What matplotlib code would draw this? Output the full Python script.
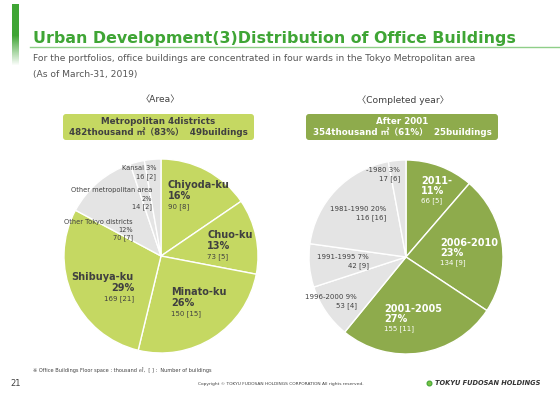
import numpy as np
import matplotlib
matplotlib.use('Agg')
from matplotlib import pyplot as plt
from matplotlib.patches import FancyBboxPatch

plt.rcParams['font.family'] = ['DejaVu Sans', 'Noto Sans CJK JP']

# data
area_names = ['Chiyoda-ku', 'Chuo-ku', 'Minato-ku', 'Shibuya-ku',
              'Other Tokyo districts', 'Other metropolitan area', 'Kansai']
area_space = [90, 73, 150, 169, 70, 14, 16]
area_pct = [16, 13, 26, 29, 12, 2, 3]
area_bldg = [8, 5, 15, 21, 7, 2, 2]
area_main = [True, True, True, True, False, False, False]

year_names = ['2011-', '2006-2010', '2001-2005', '1996-2000',
              '1991-1995', '1981-1990', '-1980']
year_space = [66, 134, 155, 53, 42, 116, 17]
year_pct = [11, 23, 27, 9, 7, 20, 3]
year_bldg = [5, 9, 11, 4, 9, 16, 6]
year_main = [True, True, True, False, False, False, False]

W, H = 560, 396
LIGHT = '#c5d862'
DARK = '#8eab4c'
GREY = '#e4e4e4'
TXT = '#404040'

fig = plt.figure(figsize=(W / 100, H / 100), dpi=100)


def pie_axes(cx, cy, r):
    return fig.add_axes([(cx - r) / W, 1 - (cy + r) / H, 2 * r / W, 2 * r / H])


def draw_pie(ax, vals, main, main_col):
    colors = [main_col if m else GREY for m in main]
    ax.pie(vals, colors=colors, startangle=90, counterclock=False,
           wedgeprops=dict(edgecolor='white', linewidth=1))
    ax.set_xlim(-1, 1)
    ax.set_ylim(-1, 1)
    ax.axis('off')


axl = pie_axes(161, 256, 97)
draw_pie(axl, area_space, area_main, LIGHT)
axr = pie_axes(406, 257, 97)
draw_pie(axr, year_space, year_main, DARK)

# overlay axes in page pixels, on top of the pies
bg = fig.add_axes([0, 0, 1, 1])
bg.patch.set_alpha(0)
bg.axis('off')

# left green gradient bar
cols = np.zeros((60, 1, 4))
cols[..., 0] = 0x3f / 255
cols[..., 1] = 0xa5 / 255
cols[..., 2] = 0x35 / 255
cols[:, 0, 3] = 1
cols[30:, 0, 3] = np.linspace(1, 0, 30)
bg.imshow(cols, extent=(12, 19, 66, 4), aspect='auto', zorder=1)
bg.set_xlim(0, W)
bg.set_ylim(H, 0)

bg.text(33, 43, 'Urban Development(3)Distribution of Office Buildings',
        fontsize=11.4, fontweight='bold', color='#3fa535', va='baseline')
bg.plot([30, 560], [47, 47], color='#8fcf89', lw=1)
bg.text(33, 61, 'For the portfolios, office buildings are concentrated in four wards '
        'in the Tokyo Metropolitan area', fontsize=6.6, color='#555555', va='baseline')
bg.text(33, 77, '(As of March-31, 2019)', fontsize=6.6, color='#555555', va='baseline')

bg.text(160, 100, '〈Area〉', fontsize=6.6, color=TXT, ha='center', va='center')
bg.text(403, 100, '〈Completed year〉', fontsize=6.6, color=TXT, ha='center', va='center')

bg.add_patch(FancyBboxPatch((63, 114), 191, 26, boxstyle='round,pad=0,rounding_size=3',
                            fc=LIGHT, ec='none'))
bg.text(158, 121, 'Metropolitan 4districts', fontsize=6.3, fontweight='bold',
        color=TXT, ha='center', va='center')
bg.text(158, 132, '482thousand ㎡（83%）  49buildings', fontsize=6.3, fontweight='bold',
        color=TXT, ha='center', va='center')
bg.add_patch(FancyBboxPatch((306, 114), 192, 26, boxstyle='round,pad=0,rounding_size=3',
                            fc=DARK, ec='none'))
bg.text(402, 121, 'After 2001', fontsize=6.3, fontweight='bold',
        color='white', ha='center', va='center')
bg.text(402, 132, '354thousand ㎡（61%）  25buildings', fontsize=6.3, fontweight='bold',
        color='white', ha='center', va='center')

# labels (pixel positions on the page)
big_l = [(168, 185, 'left'), (207, 235, 'left'), (171, 292, 'left'), (134, 277, 'right')]
for i, (x, y, ha) in enumerate(big_l):
    bg.text(x, y, area_names[i], fontsize=7, fontweight='bold', color=TXT, ha=ha, va='center')
    bg.text(x, y + 11, f'{area_pct[i]}%', fontsize=7, fontweight='bold', color=TXT, ha=ha, va='center')
    bg.text(x, y + 22, f'{area_space[i]} [{area_bldg[i]}]', fontsize=5, color=TXT, ha=ha, va='center')

bg.text(133, 222, area_names[4], fontsize=4.8, color=TXT, ha='right', va='center')
bg.text(133, 230, f'{area_pct[4]}%', fontsize=4.8, color=TXT, ha='right', va='center')
bg.text(133, 238, f'{area_space[4]} [{area_bldg[4]}]', fontsize=4.8, color=TXT, ha='right', va='center')
bg.text(152, 190, area_names[5], fontsize=4.8, color=TXT, ha='right', va='center')
bg.text(152, 199, f'{area_pct[5]}%', fontsize=4.8, color=TXT, ha='right', va='center')
bg.text(152, 207, f'{area_space[5]} [{area_bldg[5]}]', fontsize=4.8, color=TXT, ha='right', va='center')
bg.text(156, 168, f'{area_names[6]} {area_pct[6]}%', fontsize=4.8, color=TXT, ha='right', va='center')
bg.text(156, 177, f'{area_space[6]} [{area_bldg[6]}]', fontsize=4.8, color=TXT, ha='right', va='center')

big_r = [(421, 181), (440, 243), (384, 309)]
for i, (x, y) in enumerate(big_r):
    bg.text(x, y, year_names[i], fontsize=7, fontweight='bold', color='white', ha='left', va='center')
    bg.text(x, y + 10, f'{year_pct[i]}%', fontsize=7, fontweight='bold', color='white', ha='left', va='center')
    bg.text(x, y + 20, f'{year_space[i]} [{year_bldg[i]}]', fontsize=5, color='white', ha='left', va='center')

small_r = [(357, 297), (369, 257), (386, 209), (400, 170)]
for j, (x, y) in enumerate(small_r):
    i = j + 3
    bg.text(x, y, f'{year_names[i]} {year_pct[i]}%', fontsize=5, color=TXT, ha='right', va='center')
    bg.text(x, y + 9, f'{year_space[i]} [{year_bldg[i]}]', fontsize=5, color=TXT, ha='right', va='center')

# footer
bg.text(33, 370, '※ Office Buildings Floor space : thousand ㎡,  [ ] :  Number of buildings',
        fontsize=3.6, color=TXT, va='center')
bg.text(10, 383, '21', fontsize=6, color=TXT, va='center')
bg.text(281, 384, 'Copyright © TOKYU FUDOSAN HOLDINGS CORPORATION All rights reserved.',
        fontsize=3.2, color=TXT, ha='center', va='center')
bg.plot([429], [383], 'o', ms=3.5, mfc='#7ac143', mec='#3fa535', mew=0.8)
bg.text(435, 383, 'TOKYU FUDOSAN HOLDINGS', fontsize=4.8, fontweight='bold',
        fontstyle='italic', color='#333333', va='center')

fig.savefig('out.png', dpi=100)
